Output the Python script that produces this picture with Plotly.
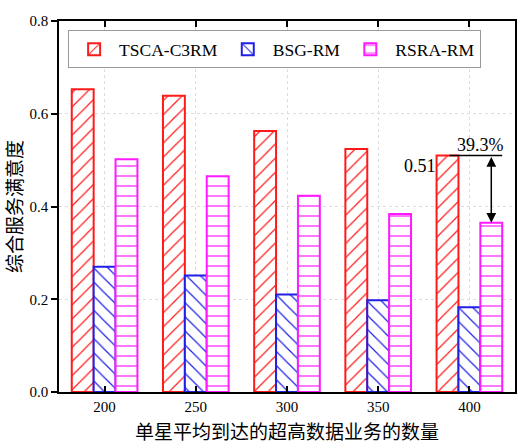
import plotly.graph_objects as go

categories = [200, 250, 300, 350, 400]
tsca = [0.653, 0.639, 0.563, 0.524, 0.51]
bsg = [0.270, 0.251, 0.210, 0.198, 0.183]
rsra = [0.502, 0.465, 0.423, 0.384, 0.365]
series_names = ["TSCA-C3RM", "BSG-RM", "RSRA-RM"]
y_ticks = [0.0, 0.2, 0.4, 0.6, 0.8]
gain_label = "39.3%"
ref_label = "0.51"

serif = "Liberation Serif, Times New Roman, serif"
cjk = "Noto Sans CJK SC"

fig = go.Figure()
styles = [("#ff1a1a", "/"), ("#1f1fe6", "\\"), ("#ff1aff", "-")]
for name, vals, (col, shp) in zip(series_names, [tsca, bsg, rsra], styles):
    fig.add_trace(go.Bar(
        x=categories, y=vals, name=name,
        marker=dict(color="white",
                    line=dict(color=col, width=2),
                    pattern=dict(shape=shp, fgcolor=col, bgcolor="white",
                                 size=10, solidity=0.12, fillmode="replace")),
    ))

# annotation: reference line, double arrow, labels
x_last = categories[-1]
fig.add_shape(type="line", xref="x", yref="y",
              x0=x_last - 11, x1=x_last + 18, y0=tsca[-1], y1=tsca[-1],
              line=dict(color="black", width=1.5))
fig.add_annotation(x=x_last + 12, y=rsra[-1], ax=x_last + 12, ay=tsca[-1],
                   xref="x", yref="y", axref="x", ayref="y", text="",
                   showarrow=True, arrowhead=2, startarrowhead=2,
                   arrowside="end+start", arrowsize=1.3, arrowwidth=1.5,
                   arrowcolor="black", startstandoff=0, standoff=0)
fig.add_annotation(x=x_last + 6, y=tsca[-1], xref="x", yref="y", text=gain_label,
                   showarrow=False, yanchor="bottom", yshift=-2,
                   font=dict(family=serif, size=18, color="black"))
fig.add_annotation(x=x_last - 17, y=tsca[-1], xref="x", yref="y", text=ref_label,
                   showarrow=False, xanchor="right", yanchor="top", yshift=1,
                   font=dict(family=serif, size=18, color="black"))

fig.update_layout(
    width=519, height=446,
    margin=dict(l=59, r=2, t=21, b=54),
    paper_bgcolor="white", plot_bgcolor="white",
    barmode="group", bargap=0.28, bargroupgap=0,
    font=dict(family=serif, size=15, color="black"),
    showlegend=True,
    legend=dict(orientation="h", x=0.02, y=0.975, xanchor="left", yanchor="top",
                bordercolor="#999999", borderwidth=1, bgcolor="white",
                font=dict(family=serif, size=17.5), itemwidth=40,
                tracegroupgap=0),
    xaxis=dict(range=[175, 425], tickvals=categories, ticktext=[str(c) for c in categories],
               ticks="inside", ticklen=6, tickwidth=1.5, tickcolor="black",
               showline=True, linecolor="black", linewidth=1.5, mirror="ticks",
               showgrid=True, gridcolor="#dddddd", griddash="dot", gridwidth=1,
               zeroline=False,
               title=dict(text="单星平均到达的超高数据业务的数量",
                          font=dict(family=cjk, size=19), standoff=12),
               tickfont=dict(family=serif, size=15)),
    yaxis=dict(range=[0, 0.8], tickvals=y_ticks, ticktext=["%.1f" % v for v in y_ticks],
               ticks="outside", ticklen=6, tickwidth=1.5, tickcolor="black",
               showline=True, linecolor="black", linewidth=1.5, mirror=True,
               showgrid=True, gridcolor="#dddddd", griddash="dot", gridwidth=1,
               zeroline=False,
               title=dict(text="综合服务满意度", font=dict(family=cjk, size=19), standoff=8),
               tickfont=dict(family=serif, size=15)),
    yaxis2=dict(range=[0, 0.8], overlaying="y", side="right", tickvals=y_ticks,
                ticks="inside", ticklen=7, tickwidth=1.5, tickcolor="black",
                showticklabels=False, showgrid=False, zeroline=False, showline=False),
)

fig.write_html("out.html")
